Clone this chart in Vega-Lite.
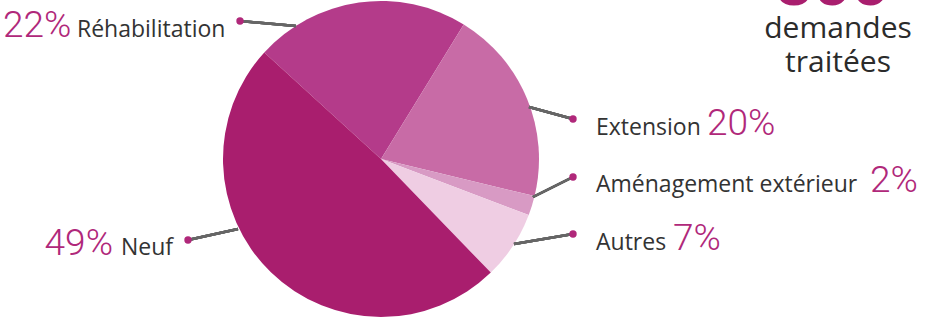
{
  "$schema": "https://vega.github.io/schema/vega-lite/v6.json",
  "width": 925,
  "height": 319,
  "autosize": {"type": "none"},
  "padding": 0,
  "background": "white",
  "config": {"view": {"stroke": null}},
  "data": {"values": [
    {"categorie": "Réhabilitation", "part": 0.22, "ordre": 1},
    {"categorie": "Extension", "part": 0.20, "ordre": 2},
    {"categorie": "Aménagement extérieur", "part": 0.02, "ordre": 3},
    {"categorie": "Autres", "part": 0.07, "ordre": 4},
    {"categorie": "Neuf", "part": 0.49, "ordre": 5}
  ]},
  "layer": [
    {
      "mark": {"type": "arc", "radius": 158, "stroke": null},
      "encoding": {
        "x": {"datum": 381, "type": "quantitative", "scale": {"domain": [0, 925], "nice": false, "zero": false}, "axis": null},
        "y": {"datum": 159, "type": "quantitative", "scale": {"domain": [0, 319], "nice": false, "zero": false, "reverse": true}, "axis": null},
        "theta": {"field": "part", "type": "quantitative", "stack": true, "scale": {"range": [5.452, 11.7352]}},
        "order": {"field": "ordre", "type": "quantitative"},
        "color": {"field": "categorie", "type": "nominal", "legend": null,
          "scale": {"domain": ["Réhabilitation", "Extension", "Aménagement extérieur", "Autres", "Neuf"],
                    "range": ["#B43B8A", "#C86BA6", "#D89AC4", "#EFCDE3", "#A91E6E"]}}
      }
    },
    {"mark": {"type": "rule", "color": "#666666", "strokeWidth": 2.5}, "encoding": {"x": {"datum": 240, "type": "quantitative"}, "y": {"datum": 21, "type": "quantitative"}, "x2": {"datum": 296}, "y2": {"datum": 26}}},
    {"mark": {"type": "rule", "color": "#666666", "strokeWidth": 2.5}, "encoding": {"x": {"datum": 573, "type": "quantitative"}, "y": {"datum": 119, "type": "quantitative"}, "x2": {"datum": 529}, "y2": {"datum": 107}}},
    {"mark": {"type": "rule", "color": "#666666", "strokeWidth": 2.5}, "encoding": {"x": {"datum": 573, "type": "quantitative"}, "y": {"datum": 177, "type": "quantitative"}, "x2": {"datum": 533}, "y2": {"datum": 197}}},
    {"mark": {"type": "rule", "color": "#666666", "strokeWidth": 2.5}, "encoding": {"x": {"datum": 573, "type": "quantitative"}, "y": {"datum": 234, "type": "quantitative"}, "x2": {"datum": 514}, "y2": {"datum": 244}}},
    {"mark": {"type": "rule", "color": "#666666", "strokeWidth": 2.5}, "encoding": {"x": {"datum": 188, "type": "quantitative"}, "y": {"datum": 240, "type": "quantitative"}, "x2": {"datum": 238}, "y2": {"datum": 229}}},
    {"transform": [{"filter": "datum.categorie === 'Réhabilitation'"}], "mark": {"type": "point", "filled": true, "size": 55, "opacity": 1, "color": "#B0287A"}, "encoding": {"x": {"datum": 240, "type": "quantitative"}, "y": {"datum": 21, "type": "quantitative"}}},
    {"transform": [{"filter": "datum.categorie === 'Extension'"}], "mark": {"type": "point", "filled": true, "size": 55, "opacity": 1, "color": "#B0287A"}, "encoding": {"x": {"datum": 573, "type": "quantitative"}, "y": {"datum": 119, "type": "quantitative"}}},
    {"transform": [{"filter": "datum.categorie === 'Aménagement extérieur'"}], "mark": {"type": "point", "filled": true, "size": 55, "opacity": 1, "color": "#B0287A"}, "encoding": {"x": {"datum": 573, "type": "quantitative"}, "y": {"datum": 177, "type": "quantitative"}}},
    {"transform": [{"filter": "datum.categorie === 'Autres'"}], "mark": {"type": "point", "filled": true, "size": 55, "opacity": 1, "color": "#B0287A"}, "encoding": {"x": {"datum": 573, "type": "quantitative"}, "y": {"datum": 234, "type": "quantitative"}}},
    {"transform": [{"filter": "datum.categorie === 'Neuf'"}], "mark": {"type": "point", "filled": true, "size": 55, "opacity": 1, "color": "#B0287A"}, "encoding": {"x": {"datum": 188, "type": "quantitative"}, "y": {"datum": 240, "type": "quantitative"}}},

    {"transform": [{"filter": "datum.categorie === 'Réhabilitation'"}], "mark": {"type": "text", "align": "left", "baseline": "alphabetic", "font": "Open Sans", "fontSize": 23, "color": "#333333"}, "encoding": {"x": {"datum": 77, "type": "quantitative"}, "y": {"datum": 37, "type": "quantitative"}, "text": {"field": "categorie"}}},
    {"transform": [{"filter": "datum.categorie === 'Extension'"}], "mark": {"type": "text", "align": "left", "baseline": "alphabetic", "font": "Open Sans", "fontSize": 23, "color": "#333333"}, "encoding": {"x": {"datum": 596, "type": "quantitative"}, "y": {"datum": 135, "type": "quantitative"}, "text": {"field": "categorie"}}},
    {"transform": [{"filter": "datum.categorie === 'Aménagement extérieur'"}], "mark": {"type": "text", "align": "left", "baseline": "alphabetic", "font": "Open Sans", "fontSize": 23, "color": "#333333"}, "encoding": {"x": {"datum": 596, "type": "quantitative"}, "y": {"datum": 192, "type": "quantitative"}, "text": {"field": "categorie"}}},
    {"transform": [{"filter": "datum.categorie === 'Autres'"}], "mark": {"type": "text", "align": "left", "baseline": "alphabetic", "font": "Open Sans", "fontSize": 23, "color": "#333333"}, "encoding": {"x": {"datum": 596, "type": "quantitative"}, "y": {"datum": 250, "type": "quantitative"}, "text": {"field": "categorie"}}},
    {"transform": [{"filter": "datum.categorie === 'Neuf'"}], "mark": {"type": "text", "align": "left", "baseline": "alphabetic", "font": "Open Sans", "fontSize": 23, "color": "#333333"}, "encoding": {"x": {"datum": 121, "type": "quantitative"}, "y": {"datum": 255, "type": "quantitative"}, "text": {"field": "categorie"}}},

    {"transform": [{"filter": "datum.categorie === 'Réhabilitation'"}], "mark": {"type": "text", "align": "left", "baseline": "alphabetic", "font": "Roboto", "fontWeight": 300, "fontSize": 37, "color": "#B0287A"}, "encoding": {"x": {"datum": 3, "type": "quantitative"}, "y": {"datum": 37, "type": "quantitative"}, "text": {"field": "part", "format": ".0%"}}},
    {"transform": [{"filter": "datum.categorie === 'Extension'"}], "mark": {"type": "text", "align": "left", "baseline": "alphabetic", "font": "Roboto", "fontWeight": 300, "fontSize": 37, "color": "#B0287A"}, "encoding": {"x": {"datum": 707, "type": "quantitative"}, "y": {"datum": 135, "type": "quantitative"}, "text": {"field": "part", "format": ".0%"}}},
    {"transform": [{"filter": "datum.categorie === 'Aménagement extérieur'"}], "mark": {"type": "text", "align": "left", "baseline": "alphabetic", "font": "Roboto", "fontWeight": 300, "fontSize": 37, "color": "#B0287A"}, "encoding": {"x": {"datum": 870, "type": "quantitative"}, "y": {"datum": 192, "type": "quantitative"}, "text": {"field": "part", "format": ".0%"}}},
    {"transform": [{"filter": "datum.categorie === 'Autres'"}], "mark": {"type": "text", "align": "left", "baseline": "alphabetic", "font": "Roboto", "fontWeight": 300, "fontSize": 37, "color": "#B0287A"}, "encoding": {"x": {"datum": 673, "type": "quantitative"}, "y": {"datum": 250, "type": "quantitative"}, "text": {"field": "part", "format": ".0%"}}},
    {"transform": [{"filter": "datum.categorie === 'Neuf'"}], "mark": {"type": "text", "align": "right", "baseline": "alphabetic", "font": "Roboto", "fontWeight": 300, "fontSize": 37, "color": "#B0287A"}, "encoding": {"x": {"datum": 113, "type": "quantitative"}, "y": {"datum": 255, "type": "quantitative"}, "text": {"field": "part", "format": ".0%"}}},

    {"transform": [{"filter": "datum.ordre === 1"}], "mark": {"type": "text", "align": "center", "baseline": "alphabetic", "font": "Roboto", "fontWeight": 900, "fontSize": 66, "color": "#A91E6E", "text": "800"}, "encoding": {"x": {"datum": 832, "type": "quantitative"}, "y": {"datum": 5, "type": "quantitative"}}},
    {"transform": [{"filter": "datum.ordre === 1"}], "mark": {"type": "text", "align": "center", "baseline": "alphabetic", "font": "Open Sans", "fontSize": 30, "color": "#2B2B2B", "text": "demandes"}, "encoding": {"x": {"datum": 838, "type": "quantitative"}, "y": {"datum": 38, "type": "quantitative"}}},
    {"transform": [{"filter": "datum.ordre === 1"}], "mark": {"type": "text", "align": "center", "baseline": "alphabetic", "font": "Open Sans", "fontSize": 30, "color": "#2B2B2B", "text": "traitées"}, "encoding": {"x": {"datum": 838, "type": "quantitative"}, "y": {"datum": 72, "type": "quantitative"}}}
  ]
}
